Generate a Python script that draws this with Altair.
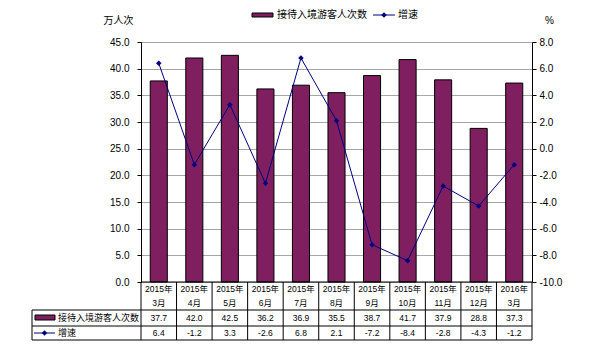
import altair as alt
import pandas as pd

years = ["2015年"] * 10 + ["2016年"]
months = ["3月", "4月", "5月", "6月", "7月", "8月", "9月", "10月", "11月", "12月", "3月"]
cats = [y + m for y, m in zip(years, months)]
visitors = [37.7, 42.0, 42.5, 36.2, 36.9, 35.5, 38.7, 41.7, 37.9, 28.8, 37.3]
growth = [6.4, -1.2, 3.3, -2.6, 6.8, 2.1, -7.2, -8.4, -2.8, -4.3, -1.2]
left_ticks = [0, 5, 10, 15, 20, 25, 30, 35, 40, 45]
right_ticks = [-10, -8, -6, -4, -2, 0, 2, 4, 6, 8]
series1 = "接待入境游客人次数"
series2 = "增速"

PURPLE = "#7F1F5F"
NAVY = "#000080"
NUMFONT = "Liberation Sans"
CJK = "Liberation Sans, Noto Sans CJK SC"
MINUS_FIX = "replace(datum.label, '\u2212', '-')"

df = pd.DataFrame({
    "cat": cats,
    "year": years,
    "month": months,
    "visitors": visitors,
    "growth": growth,
    "vtxt": [f"{v:.1f}" for v in visitors],
    "gtxt": [f"{g:.1f}" for g in growth],
})

base = alt.Chart(df)
xscale = alt.Scale(paddingInner=0, paddingOuter=0)
xenc = alt.X("cat:N", sort=cats, scale=xscale, axis=None)

bars = base.mark_bar(
    width=alt.RelativeBandSize(0.48), color=PURPLE, stroke="black", strokeWidth=1
).encode(
    x=xenc,
    y=alt.Y("visitors:Q",
            scale=alt.Scale(domain=[0, 45], nice=False, zero=True),
            axis=alt.Axis(values=left_ticks, format=".1f", grid=True,
                          gridColor="#A6A6A6", gridWidth=1,
                          domainColor="black", tickColor="black", tickSize=4,
                          labelPadding=8, labelFont=NUMFONT, labelFontSize=10,
                          labelColor="black",
                          title="万人次", titleAngle=0, titleX=-23, titleY=-22,
                          titleAlign="center", titleBaseline="middle",
                          titleFont=CJK, titleFontSize=10, titleFontWeight="normal",
                          titleColor="black")),
)

line = base.mark_line(
    color=NAVY, strokeWidth=1,
    point=alt.OverlayMarkDef(shape="diamond", filled=True, size=30, color=NAVY),
).encode(
    x=xenc,
    y=alt.Y("growth:Q",
            scale=alt.Scale(domain=[-10, 8], nice=False, zero=False),
            axis=alt.Axis(orient="right", values=right_ticks, format=".1f", grid=False,
                          labelExpr=MINUS_FIX,
                          domainColor="black", tickColor="black", tickSize=4,
                          labelPadding=3, labelFont=NUMFONT, labelFontSize=10,
                          labelColor="black",
                          title="%", titleAngle=0, titleX=17, titleY=-22,
                          titleAlign="center", titleBaseline="middle",
                          titleFont=NUMFONT, titleFontSize=10, titleFontWeight="normal",
                          titleColor="black")),
)

one = alt.Chart(alt.Data(values=[{"a": 1}]))

# table text
year_text = base.mark_text(font=CJK, fontSize=8.5, color="black", baseline="middle").encode(
    x=xenc, y=alt.value(247), text="year:N")
month_text = base.mark_text(font=CJK, fontSize=8.5, color="black", baseline="middle").encode(
    x=xenc, y=alt.value(261), text="month:N")
val_text = base.mark_text(font=NUMFONT, fontSize=8.5, color="black", baseline="middle").encode(
    x=xenc, y=alt.value(276), text="vtxt:N")
gr_text = base.mark_text(font=NUMFONT, fontSize=8.5, color="black", baseline="middle").encode(
    x=xenc, y=alt.value(291), text="gtxt:N")

# table grid
col_rules = base.mark_rule(color="black", strokeWidth=1).encode(
    x=alt.X("cat:N", sort=cats, bandPosition=0, scale=xscale, axis=None),
    y=alt.value(240), y2=alt.value(298))
right_rule = one.mark_rule(color="black", strokeWidth=1).encode(
    x=alt.value(391), y=alt.value(240), y2=alt.value(298))
left_rule = one.mark_rule(color="black", strokeWidth=1).encode(
    x=alt.value(-109), y=alt.value(268), y2=alt.value(298))
bottom_axis = one.mark_rule(color="black", strokeWidth=1).encode(
    x=alt.value(0), x2=alt.value(391), y=alt.value(240))
h_rules = [one.mark_rule(color="black", strokeWidth=1).encode(
    x=alt.value(-109), x2=alt.value(391), y=alt.value(yv)) for yv in (268, 284, 298)]

# table legend keys
tkey1 = one.mark_rect(color=PURPLE, stroke="black", strokeWidth=1).encode(
    x=alt.value(-106), x2=alt.value(-86), y=alt.value(273), y2=alt.value(278))
ttext1 = one.mark_text(align="left", baseline="middle", font=CJK, fontSize=9, color="black").encode(
    x=alt.value(-83), y=alt.value(276), text=alt.value(series1))
tkey2 = one.mark_rule(color=NAVY, strokeWidth=1).encode(
    x=alt.value(-107), x2=alt.value(-86), y=alt.value(291))
tdot2 = one.mark_point(shape="diamond", filled=True, size=30, color=NAVY, opacity=1).encode(
    x=alt.value(-96.5), y=alt.value(291))
ttext2 = one.mark_text(align="left", baseline="middle", font=CJK, fontSize=9, color="black").encode(
    x=alt.value(-83), y=alt.value(291), text=alt.value(series2))

# top legend
lkey1 = one.mark_rect(color=PURPLE, stroke="black", strokeWidth=1).encode(
    x=alt.value(111), x2=alt.value(132), y=alt.value(-29), y2=alt.value(-25))
ltext1 = one.mark_text(align="left", baseline="middle", font=CJK, fontSize=10, color="black").encode(
    x=alt.value(136), y=alt.value(-27), text=alt.value(series1))
lkey2 = one.mark_rule(color=NAVY, strokeWidth=1).encode(
    x=alt.value(232), x2=alt.value(254), y=alt.value(-27))
ldot2 = one.mark_point(shape="diamond", filled=True, size=30, color=NAVY, opacity=1).encode(
    x=alt.value(243), y=alt.value(-27))
ltext2 = one.mark_text(align="left", baseline="middle", font=CJK, fontSize=10, color="black").encode(
    x=alt.value(257), y=alt.value(-27), text=alt.value(series2))

chart = alt.layer(
    bars, line, year_text, month_text, val_text, gr_text, col_rules, right_rule, left_rule,
    bottom_axis, *h_rules, tkey1, ttext1, tkey2, tdot2, ttext2, lkey1, ltext1, lkey2, ldot2,
    ltext2,
).resolve_scale(y="independent").properties(
    width=391, height=240,
    autosize=alt.AutoSizeParams(type="none"),
    padding={"left": 141, "top": 42, "right": 68, "bottom": 72},
    background="white",
).configure_view(stroke=None)

chart.save("out.html", embed_options={"renderer": "svg", "actions": False})
